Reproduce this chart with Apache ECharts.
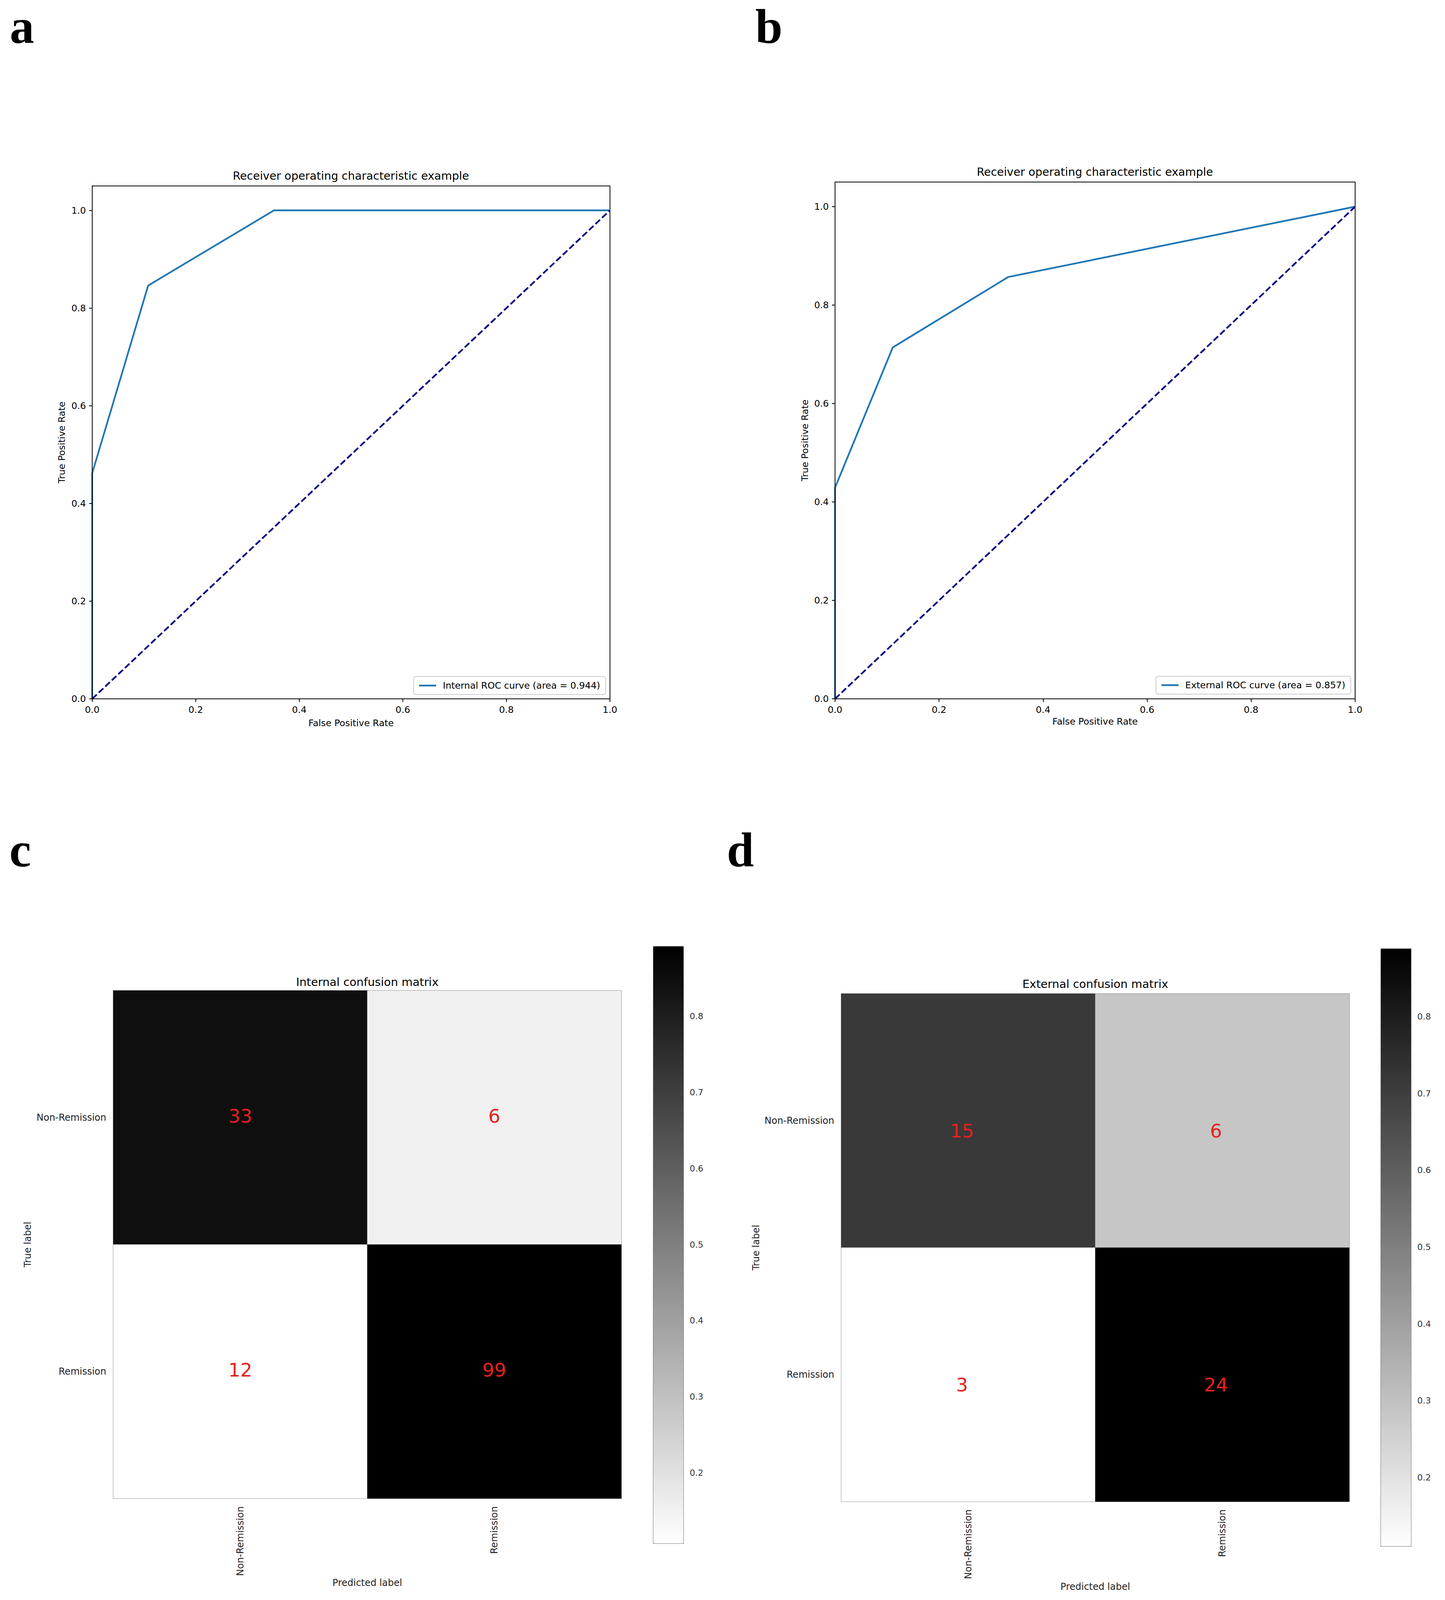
<!DOCTYPE html>
<html>
<head>
<meta charset="utf-8">
<script src="https://cdn.jsdelivr.net/npm/echarts@6/dist/echarts.min.js"></script>
<style>
html,body{margin:0;padding:0;background:#fff;}
#chart{width:3698px;height:4103px;}
</style>
</head>
<body>
<div id="chart"></div>
<script>
// ---------- data ----------
const fprInternal = [0, 0, 0.108, 0.351, 1.0];
const tprInternal = [0, 0.462, 0.846, 1.0, 1.0];
const fprExternal = [0, 0, 0.111, 0.333, 1.0];
const tprExternal = [0, 0.429, 0.714, 0.857, 1.0];
const chanceLine = [0, 1];
const rocTicks = [0, 0.2, 0.4, 0.6, 0.8, 1.0];
const internalLegend = 'Internal ROC curve (area = 0.944)';
const externalLegend = 'External ROC curve (area = 0.857)';
const classLabels = ['Non-Remission', 'Remission'];
const internalCounts = [[33, 6], [12, 99]];
const externalCounts = [[15, 6], [3, 24]];
const colorbarTicks = [0.2, 0.3, 0.4, 0.5, 0.6, 0.7, 0.8];

// ---------- helpers ----------
const FONT = '"DejaVu Sans"';
const zip = (a, b) => a.map((v, i) => [v, b[i]]);
function cells(counts) {
  const out = [];
  counts.forEach((row, i) => {
    const s = row.reduce((p, q) => p + q, 0);
    row.forEach((c, j) => out.push([j, i, c / s, c]));
  });
  return out;
}
const cellsC = cells(internalCounts);
const cellsD = cells(externalCounts);
const rangeOf = d => [Math.min(...d.map(x => x[2])), Math.max(...d.map(x => x[2]))];
const rC = rangeOf(cellsC), rD = rangeOf(cellsD);

const tickFs = 23.5;
function rocX(g, gap) {
  return {
    gridIndex: g, type: 'value', min: 0, max: 1, z: 5,
    axisLine: {show: true, onZero: false, lineStyle: {color: '#000', width: 2}},
    axisTick: {show: true, length: 8, lineStyle: {color: '#000', width: 2}, customValues: rocTicks},
    axisLabel: {customValues: rocTicks, formatter: v => v.toFixed(1), margin: 16, fontSize: tickFs, color: '#000', fontFamily: FONT},
    splitLine: {show: false},
    name: 'False Positive Rate', nameLocation: 'middle', nameGap: gap,
    nameTextStyle: {fontSize: tickFs, color: '#000', fontFamily: FONT}
  };
}
function rocY(g, gap) {
  return {
    gridIndex: g, type: 'value', min: 0, max: 1.05, z: 5,
    axisLine: {show: true, onZero: false, lineStyle: {color: '#000', width: 2}},
    axisTick: {show: true, length: 8, lineStyle: {color: '#000', width: 2}, customValues: rocTicks},
    axisLabel: {customValues: rocTicks, formatter: v => v.toFixed(1), margin: 16, fontSize: tickFs, color: '#000', fontFamily: FONT},
    splitLine: {show: false},
    name: 'True Positive Rate', nameLocation: 'middle', nameGap: gap,
    nameTextStyle: {fontSize: tickFs, color: '#000', fontFamily: FONT}
  };
}
function cmX(g, gap) {
  return {
    gridIndex: g, type: 'category', data: classLabels,
    axisLine: {show: true, lineStyle: {color: '#777', width: 2}},
    axisTick: {show: false},
    axisLabel: {rotate: 90, margin: 20, fontSize: 24, color: '#222', fontFamily: FONT},
    splitLine: {show: false},
    name: 'Predicted label', nameLocation: 'middle', nameGap: gap,
    nameTextStyle: {fontSize: 24, color: '#222', fontFamily: FONT}
  };
}
function cmY(g, gap) {
  return {
    gridIndex: g, type: 'category', data: classLabels, inverse: true,
    axisLine: {show: true, lineStyle: {color: '#777', width: 2}},
    axisTick: {show: false},
    axisLabel: {margin: 18, fontSize: 24, color: '#222', fontFamily: FONT},
    splitLine: {show: false},
    name: 'True label', nameLocation: 'middle', nameGap: gap,
    nameTextStyle: {fontSize: 24, color: '#222', fontFamily: FONT}
  };
}
function cbX(g) { return {gridIndex: g, type: 'value', show: false, min: 0, max: 1}; }
function cbY(g, r) {
  return {
    gridIndex: g, type: 'value', position: 'right', min: r[0], max: r[1],
    axisLine: {show: false},
    axisTick: {show: true, length: 9, lineStyle: {color: '#333', width: 2}, customValues: colorbarTicks},
    axisLabel: {customValues: colorbarTicks, formatter: v => v.toFixed(1), margin: 17, fontSize: 22, color: '#333', fontFamily: FONT},
    splitLine: {show: false}
  };
}
function legendFor(name, right, bottom) {
  return {
    data: [name], right: right, bottom: bottom, orient: 'vertical',
    icon: 'rect', itemWidth: 44, itemHeight: 4.5,
    padding: [11, 14, 11, 14],
    backgroundColor: 'rgba(255,255,255,0.8)',
    borderColor: '#cccccc', borderWidth: 2, borderRadius: 6,
    textStyle: {fontSize: tickFs, color: '#000', fontFamily: FONT, padding: [0, 0, 0, 12]},
    selectedMode: false
  };
}
function heat(g, data, off) {
  return {
    type: 'heatmap', xAxisIndex: g, yAxisIndex: g, data: data,
    itemStyle: {borderWidth: 0},
    emphasis: {disabled: true},
    label: {show: true, color: '#e8201c', fontSize: 48, fontFamily: FONT, offset: off, formatter: p => String(p.data[3])}
  };
}
function letter(t, x, yMid) {
  return {type: 'text', x: x, y: yMid, style: {text: t, font: 'bold 125px "Liberation Serif"', fill: '#000', textVerticalAlign: 'middle'}};
}
function title(t, x, y, fs) {
  return {type: 'text', x: x, y: y, style: {text: t, font: fs + 'px ' + FONT, fill: '#000', textAlign: 'center', textVerticalAlign: 'middle'}};
}

const option = {
  animation: false,
  backgroundColor: '#fff',
  textStyle: {fontFamily: FONT},
  grid: [
    {left: 236, top: 476, width: 1325, height: 1313, show: true, borderColor: '#000', borderWidth: 2, backgroundColor: 'transparent'},
    {left: 2137, top: 466, width: 1331, height: 1323, show: true, borderColor: '#000', borderWidth: 2, backgroundColor: 'transparent'},
    {left: 290, top: 2536, width: 1300, height: 1300, show: true, borderColor: '#777', borderWidth: 2, backgroundColor: 'transparent'},
    {left: 2153, top: 2544, width: 1300, height: 1300, show: true, borderColor: '#777', borderWidth: 2, backgroundColor: 'transparent'},
    {left: 1671, top: 2422, width: 77, height: 1528},
    {left: 3533, top: 2428, width: 77, height: 1529}
  ],
  xAxis: [rocX(0, 50), rocX(1, 46), cmX(2, 204), cmX(3, 206), cbX(4), cbX(5)],
  yAxis: [rocY(0, 66), rocY(1, 65), cmY(2, 207), cmY(3, 206), cbY(4, rC), cbY(5, rD)],
  legend: [legendFor(internalLegend, 2148, 2325), legendFor(externalLegend, 241, 2326)],
  visualMap: [
    {type: 'continuous', seriesIndex: 4, dimension: 2, min: rC[0], max: rC[1],
     inRange: {color: ['#ffffff', '#000000']}, orient: 'vertical', left: 1671, top: 2422,
     itemWidth: 77, itemHeight: 1528, calculable: false, padding: 0, hoverLink: false,
     borderColor: '#777', borderWidth: 2},
    {type: 'continuous', seriesIndex: 5, dimension: 2, min: rD[0], max: rD[1],
     inRange: {color: ['#ffffff', '#000000']}, orient: 'vertical', left: 3533, top: 2428,
     itemWidth: 77, itemHeight: 1529, calculable: false, padding: 0, hoverLink: false,
     borderColor: '#777', borderWidth: 2}
  ],
  series: [
    {type: 'line', name: internalLegend, xAxisIndex: 0, yAxisIndex: 0, data: zip(fprInternal, tprInternal),
     symbol: 'none', lineStyle: {color: '#1f77b4', width: 4.4}, itemStyle: {color: '#1f77b4'}},
    {type: 'line', xAxisIndex: 0, yAxisIndex: 0, data: zip(chanceLine, chanceLine),
     symbol: 'none', lineStyle: {color: '#000080', width: 4.4, type: [16, 7]}, itemStyle: {color: '#000080'}},
    {type: 'line', name: externalLegend, xAxisIndex: 1, yAxisIndex: 1, data: zip(fprExternal, tprExternal),
     symbol: 'none', lineStyle: {color: '#1f77b4', width: 4.4}, itemStyle: {color: '#1f77b4'}},
    {type: 'line', xAxisIndex: 1, yAxisIndex: 1, data: zip(chanceLine, chanceLine),
     symbol: 'none', lineStyle: {color: '#000080', width: 4.4, type: [16, 7]}, itemStyle: {color: '#000080'}},
    heat(2, cellsC, [0, -4]),
    heat(3, cellsD, [-16, 26])
  ],
  graphic: [
    letter('a', 25, 68),
    letter('b', 1933, 68),
    letter('c', 24, 2176),
    letter('d', 1860, 2176),
    title('Receiver operating characteristic example', 898, 450, 28.5),
    title('Receiver operating characteristic example', 2802, 440, 28.5),
    title('Internal confusion matrix', 940, 2514, 29),
    title('External confusion matrix', 2803, 2519, 29)
  ]
};

const chart = echarts.init(document.getElementById('chart'), null, {renderer: 'svg', width: 3698, height: 4103});
chart.setOption(option);
</script>
</body>
</html>
